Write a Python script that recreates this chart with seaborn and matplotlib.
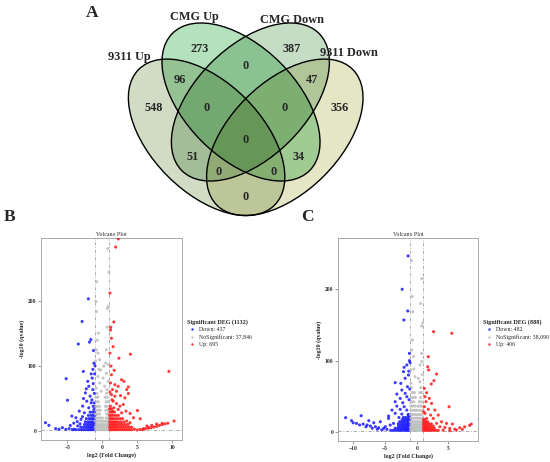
import numpy as np
import pandas as pd
import matplotlib
matplotlib.use("Agg")
import matplotlib.pyplot as plt
from matplotlib.patches import Ellipse
import seaborn as sns

# ---------------------------------------------------------------------------
# Data: Venn diagram (A = 9311 Up, B = CMG Up, C = CMG Down, D = 9311 Down)
# ---------------------------------------------------------------------------
SET_KEYS = ["A", "B", "C", "D"]
SET_NAMES = ["9311 Up", "CMG Up", "CMG Down", "9311 Down"]
REGION_KEYS = ["A", "B", "C", "D", "AB", "BC", "CD", "AC", "BD", "AD",
               "ABC", "BCD", "ACD", "ABD", "ABCD"]
REGION_COUNTS = [548, 273, 387, 356, 96, 0, 47, 51, 34, 0, 0, 0, 0, 0, 0]

# ---------------------------------------------------------------------------
# Data: volcano plots  (log2 fold change, -log10 qvalue)
# sparse points as pairs, dense clouds as rows (y, [x, ...])
# ---------------------------------------------------------------------------
B_TITLE = "Significant DEG (1132)"
B_LABELS = ["Down: 437", "NoSignificant: 37,846", "Up: 695"]
C_TITLE = "Significant DEG (888)"
C_LABELS = ["Down: 482", "NoSignificant: 38,090", "Up: 406"]

B_DOWN = [
    (-2.00, 203.7), (-2.90, 168.8), (-3.45, 134.0), (-1.84, 137.0), (-1.65, 141.0),
    (-1.26, 124.0), (-1.21, 104.6), (-1.05, 100.5), (-2.72, 91.8), (-5.19, 80.6),
    (-5.00, 47.4), (-1.60, 88.0), (-1.46, 81.6), (-2.09, 76.5), (-1.94, 68.9),
    (-1.36, 63.8), (-2.43, 58.7), (-1.75, 53.6), (-2.23, 45.9), (-1.60, 43.4),
    (-2.82, 38.3), (-1.94, 35.7), (-3.30, 30.6), (-2.57, 28.0), (-4.37, 23.0),
    (-3.79, 20.4), (-3.06, 17.9), (-8.16, 12.8), (-7.67, 8.7), (-5.73, 5.1),
    (-5.24, 2.6), (-4.76, 3.6), (-4.03, 2.6), (-3.54, 7.7), (-6.21, 2.6),
    (-6.70, 3.6), (-1.17, 43.4), (-1.21, 33.2), (-1.30, 73.0), (-1.15, 58.0),
    (-1.50, 48.0), (-2.70, 50.0), (-1.10, 88.0), (-1.35, 95.0), (-2.30, 65.0),
    (-4.10, 12.0), (-3.60, 14.5), (-3.20, 11.0), (-2.85, 22.0), (-4.60, 8.5),
]
B_DOWN_ROWS = [
    (2, [-1.1, -1.35, -1.6, -1.85, -2.1, -2.4, -2.7, -3.0, -3.4, -3.8, -4.3]),
    (6, [-1.05, -1.3, -1.55, -1.8, -2.05, -2.35, -2.7, -3.1]),
    (10, [-1.1, -1.35, -1.6, -1.9, -2.2, -2.55]),
    (14, [-1.05, -1.3, -1.55, -1.8, -2.1, -2.45]),
    (19, [-1.1, -1.35, -1.6, -1.9, -2.3]),
    (24, [-1.05, -1.3, -1.6, -2.0]),
    (29, [-1.1, -1.4, -1.75]),
    (38, [-1.05, -1.3]),
]
B_NS = [
    (0.78, 281.0), (0.86, 191.8), (-0.90, 199.5), (-0.85, 184.0), (0.73, 189.0),
    (-0.57, 150.7), (-0.73, 140.0), (-0.87, 125.0), (-0.63, 120.0), (0.58, 125.0),
    (-0.39, 110.0), (0.49, 104.6), (-0.24, 94.0), (0.58, 89.0), (-0.63, 84.0),
    (0.10, 81.6), (0.83, 76.5), (-0.39, 74.0), (0.34, 68.9), (-0.87, 66.0),
    (0.68, 63.8), (-0.15, 61.2), (0.90, 102.0), (-0.95, 108.0), (0.70, 160.0),
    (-0.80, 230.0), (0.95, 245.0), (-0.50, 95.0), (0.20, 100.0),
]
B_NS_ROWS = [
    (2, [-0.95, -0.7, -0.45, -0.2, 0.05, 0.3, 0.55, 0.8, 1.0]),
    (6, [-1.0, -0.75, -0.5, -0.25, 0.0, 0.25, 0.5, 0.75, 0.95]),
    (10, [-0.9, -0.62, -0.35, -0.1, 0.15, 0.42, 0.68, 0.92]),
    (15, [-1.0, -0.72, -0.45, -0.18, 0.1, 0.38, 0.62, 0.88]),
    (20, [-0.92, -0.6, -0.3, 0.0, 0.55, 0.8, 1.0]),
    (26, [-0.98, -0.7, -0.42, 0.62, 0.88]),
    (32, [-0.88, -0.55, -0.3, 0.5, 0.78, 0.98]),
    (38, [-0.95, -0.68, -0.4, 0.45, 0.72]),
    (45, [-0.85, -0.55, 0.55, 0.85]),
    (52, [-0.92, -0.62, 0.4, 0.7]),
    (58, [-0.75, 0.6]),
]
B_UP = [
    (2.30, 296.0), (1.92, 283.5), (1.10, 212.5), (1.65, 168.0), (1.21, 159.7),
    (1.17, 155.6), (1.31, 142.9), (1.55, 130.0), (4.03, 118.4), (2.38, 112.2),
    (1.70, 93.4), (9.56, 91.8), (1.31, 86.7), (2.77, 79.0), (3.11, 76.5),
    (3.74, 67.9), (1.17, 74.0), (1.80, 71.4), (2.28, 68.9), (1.46, 63.8),
    (2.04, 61.2), (3.50, 63.8), (1.31, 56.0), (1.80, 53.6), (2.62, 54.6),
    (3.74, 57.7), (3.25, 51.0), (5.05, 31.6), (1.55, 45.9), (2.04, 42.3),
    (1.17, 38.3), (1.65, 35.7), (2.52, 38.3), (3.01, 40.8), (2.28, 33.2),
    (1.46, 30.6), (2.77, 28.0), (3.40, 30.6), (3.98, 27.0), (4.47, 20.4),
    (5.44, 18.9), (3.50, 15.3), (3.98, 12.8), (1.25, 100.0), (1.10, 120.0),
    (1.40, 48.0), (1.10, 60.0),
    (4.60, 3.0), (5.00, 1.5), (5.40, 2.5), (5.80, 2.0), (6.20, 3.5), (6.60, 4.5),
    (7.00, 5.0), (7.40, 6.0), (7.80, 7.0), (8.20, 8.5), (8.60, 10.0), (9.00, 11.0),
    (9.40, 12.0), (10.30, 15.3), (6.40, 7.7), (7.10, 8.7), (7.80, 10.7), (8.60, 11.7),
    (5.90, 3.6), (6.65, 5.1),
]
B_UP_ROWS = [
    (2, [1.1, 1.35, 1.6, 1.85, 2.1, 2.4, 2.7, 3.0, 3.3, 3.6, 3.9, 4.2]),
    (6, [1.05, 1.3, 1.55, 1.8, 2.05, 2.3, 2.6, 2.9, 3.2, 3.5, 3.85, 4.2]),
    (10, [1.1, 1.35, 1.6, 1.85, 2.1, 2.4, 2.7, 3.0, 3.35, 3.7]),
    (14, [1.05, 1.3, 1.55, 1.8, 2.05, 2.35, 2.7, 3.1]),
    (19, [1.1, 1.35, 1.6, 1.9, 2.2, 2.55, 2.9]),
    (24, [1.05, 1.3, 1.6, 1.95, 2.3]),
    (29, [1.1, 1.4, 1.75]),
    (34, [1.05, 1.3]),
]

C_DOWN = [
    (-1.35, 246.8), (-2.29, 200.0), (-1.41, 169.6), (-2.03, 156.9), (-1.15, 99.8),
    (-1.04, 97.0), (-1.56, 93.7), (-1.98, 90.4), (-2.08, 84.3), (-3.39, 68.9),
    (-2.50, 67.9), (-1.82, 75.0), (-1.30, 79.6), (-1.46, 63.2), (-2.34, 58.5),
    (-3.13, 52.9), (-1.82, 53.9), (-2.60, 46.8), (-1.56, 49.2), (-3.39, 42.2),
    (-2.19, 40.7), (-3.13, 36.0), (-1.98, 35.1), (-3.90, 30.4), (-2.60, 31.4),
    (-1.56, 30.4), (-3.39, 25.8), (-2.34, 24.8), (-4.43, 22.0), (-1.30, 23.4),
    (-8.75, 22.5), (-11.20, 19.7), (-10.26, 15.5), (-9.48, 11.7), (-7.55, 15.5),
    (-8.44, 10.8), (-6.77, 12.6), (-5.73, 14.0), (-7.81, 9.4), (-7.30, 8.0),
    (-6.51, 7.0), (-5.99, 5.6), (-5.21, 4.7), (-4.69, 3.3), (-4.95, 7.0),
    (-4.17, 9.4), (-3.65, 11.7), (-4.43, 18.7), (-1.10, 60.0), (-1.20, 45.0),
    (-2.80, 20.0), (-5.50, 2.5), (-6.20, 3.5), (-7.00, 5.0), (-8.00, 7.0),
    (-9.00, 9.5), (-10.00, 12.5), (-1.15, 110.0), (-1.25, 85.0),
]
C_DOWN_ROWS = [
    (2, [-1.1, -1.35, -1.6, -1.85, -2.1, -2.4, -2.7, -3.0, -3.35, -3.7, -4.1]),
    (5, [-1.05, -1.3, -1.55, -1.8, -2.05, -2.35, -2.65, -3.0, -3.4]),
    (8, [-1.1, -1.35, -1.6, -1.9, -2.2, -2.5, -2.85]),
    (11, [-1.05, -1.3, -1.55, -1.85, -2.15, -2.5, -2.9]),
    (14, [-1.1, -1.35, -1.65, -2.0, -2.35, -2.7]),
    (17, [-1.05, -1.3, -1.6, -1.95, -2.3]),
    (20, [-1.1, -1.4, -1.75, -2.1]),
    (24, [-1.05, -1.35]),
]
C_NS = [
    (-0.63, 168.6), (0.94, 153.0), (0.78, 148.5), (-0.68, 128.8), (-0.78, 114.8),
    (0.78, 110.0), (-0.52, 105.4), (0.78, 98.4), (-0.94, 86.7), (0.52, 93.7),
    (-0.26, 77.3), (0.26, 74.9), (-0.90, 68.0), (0.90, 80.0), (-0.70, 190.0),
    (0.85, 215.0), (-0.85, 240.0), (0.60, 180.0), (-0.45, 88.0), (0.50, 70.0),
]
C_NS_ROWS = [
    (2, [-0.95, -0.7, -0.45, -0.2, 0.05, 0.3, 0.55, 0.8, 1.0]),
    (6, [-1.0, -0.75, -0.5, -0.25, 0.0, 0.25, 0.5, 0.75, 0.95]),
    (10, [-0.9, -0.62, -0.35, -0.1, 0.15, 0.42, 0.68, 0.92]),
    (14, [-1.0, -0.72, -0.45, -0.18, 0.1, 0.38, 0.62, 0.88]),
    (19, [-0.92, -0.6, -0.3, 0.0, 0.3, 0.6, 0.9]),
    (24, [-0.98, -0.7, -0.42, -0.12, 0.2, 0.5, 0.8]),
    (30, [-0.88, -0.55, -0.25, 0.1, 0.45, 0.78]),
    (36, [-0.95, -0.65, -0.3, 0.2, 0.55, 0.85]),
    (42, [-0.8, -0.45, 0.4, 0.75]),
    (48, [-0.9, -0.55, -0.2, 0.6]),
    (55, [-0.7, -0.35, 0.5, 0.8]),
    (62, [-0.8, 0.65]),
]
C_UP = [
    (2.66, 140.5), (5.52, 138.2), (1.82, 105.4), (1.72, 91.3), (3.13, 81.0),
    (1.88, 86.7), (2.71, 71.7), (2.29, 67.0), (1.20, 60.9), (5.10, 35.1),
    (1.56, 54.8), (1.30, 49.2), (1.98, 46.8), (1.46, 42.2), (2.34, 39.8),
    (1.20, 35.1), (1.82, 31.4), (2.86, 30.4), (1.30, 25.8), (2.19, 23.4),
    (3.39, 23.4), (1.56, 18.7), (2.60, 18.7), (3.91, 14.0), (4.69, 11.7),
    (5.63, 10.8), (3.65, 7.0), (4.43, 6.1), (5.21, 4.7), (5.99, 3.7),
    (6.77, 5.6), (7.55, 7.0), (8.33, 8.9), (8.60, 10.8), (4.17, 2.3),
    (5.21, 1.4), (6.25, 2.3), (7.19, 3.3), (3.13, 11.7), (1.10, 28.0),
]
C_UP_ROWS = [
    (2, [1.1, 1.35, 1.6, 1.85, 2.1, 2.4, 2.7, 3.0, 3.4]),
    (5, [1.05, 1.3, 1.55, 1.8, 2.1, 2.4, 2.75]),
    (8, [1.1, 1.35, 1.6, 1.9, 2.2, 2.6]),
    (11, [1.05, 1.3, 1.6, 1.95, 2.3]),
    (14, [1.1, 1.4, 1.75]),
    (17, [1.05, 1.3]),
]

# ---------------------------------------------------------------------------
# Layout (figure pixels, y pointing down)
# ---------------------------------------------------------------------------
W, H = 550, 462
ELLIPSES = {  # cx, cy, semi-major, semi-minor, angle
    "A": (206.6, 137.3, 96.0, 55.0, 45),
    "B": (241.0, 102.0, 97.0, 55.5, 45),
    "C": (250.4, 102.0, 97.0, 55.5, -45),
    "D": (284.8, 137.3, 96.0, 55.0, -45),
}
FILLS = {"A": "#d3dcc6", "B": "#b4e2bd", "C": "#c6dcc5", "D": "#e4e6c6"}
SET_LABEL_POS = {"A": (129, 57), "B": (194, 17), "C": (291.5, 20), "D": (349, 53)}
REGION_POS = {
    "A": (153.3, 108.3), "B": (199.3, 49.3), "C": (291.7, 49.3), "D": (339.3, 108.3),
    "AB": (180, 80), "BC": (246, 65.7), "CD": (311.7, 80), "AC": (192.7, 156.7),
    "BD": (299, 156.7), "AD": (246, 196.7), "ABC": (206.7, 108.3),
    "BCD": (285, 108.3), "ACD": (218.3, 171.7), "ABD": (273.3, 171.7),
    "ABCD": (245.7, 140),
}

sns.set_style("white")
plt.rcParams["font.family"] = ["Liberation Serif", "DejaVu Serif"]

fig = plt.figure(figsize=(W / 100, H / 100), dpi=100)

# ---- Venn panel -----------------------------------------------------------
ax_v = fig.add_axes([0, 0, 1, 1])
ax_v.set_xlim(0, W)
ax_v.set_ylim(H, 0)
ax_v.axis("off")
ax_v.patch.set_alpha(0)

x0, x1, y0, y1 = 100, 392, 0, 224
xs = np.arange(x0, x1, 0.5) + 0.25
ys = np.arange(y0, y1, 0.5) + 0.25
X, Y = np.meshgrid(xs, ys)
rgba = np.ones((len(ys), len(xs), 4))
any_in = np.zeros(X.shape, dtype=bool)
for key in SET_KEYS:
    cx, cy, a, b, ang = ELLIPSES[key]
    t = np.deg2rad(ang)
    u = (X - cx) * np.cos(t) + (Y - cy) * np.sin(t)
    v = -(X - cx) * np.sin(t) + (Y - cy) * np.cos(t)
    inside = (u / a) ** 2 + (v / b) ** 2 <= 1
    col = np.array(matplotlib.colors.to_rgb(FILLS[key]))
    rgba[inside, :3] *= col
    any_in |= inside
rgba[..., 3] = any_in.astype(float)
ax_v.imshow(rgba, extent=(x0, x1, y1, y0), interpolation="bilinear", zorder=1)

for key in SET_KEYS:
    cx, cy, a, b, ang = ELLIPSES[key]
    ax_v.add_patch(Ellipse((cx, cy), 2 * a, 2 * b, angle=ang, fill=False,
                           ec="black", lw=1.0, zorder=2))

for key, name in zip(SET_KEYS, SET_NAMES):
    x, y = SET_LABEL_POS[key]
    ax_v.text(x, y, name, ha="center", va="center", fontsize=8.8,
              fontweight="bold", zorder=3)
for key, count in zip(REGION_KEYS, REGION_COUNTS):
    x, y = REGION_POS[key]
    ax_v.text(x, y, str(count), ha="center", va="center", fontsize=8.8,
              fontweight="bold", zorder=3)

for lab, (x, y) in zip(["A", "B", "C"], [(92, 13), (10, 217), (307, 217)]):
    ax_v.text(x, y, lab, ha="center", va="center", fontsize=12.5,
              fontweight="bold", zorder=3)


# ---- Volcano panels -------------------------------------------------------
def volcano_frame(labels, down, down_rows, ns, ns_rows, up, up_rows):
    rows = []
    for lab, pts, dense in zip(labels, [down, ns, up], [down_rows, ns_rows, up_rows]):
        rows += [(x, y, lab) for x, y in pts]
        rows += [(x, y, lab) for y, xlist in dense for x in xlist]
    return pd.DataFrame(rows, columns=["log2FC", "q", "group"])


def draw_volcano(rect, df, labels, title, xlim, ylim, xticks):
    ax = fig.add_axes(rect)
    sns.scatterplot(data=df, x="log2FC", y="q", hue="group", hue_order=labels,
                    palette=["#1a1aff", "#bdbdbd", "#ff1a1a"], s=5,
                    linewidth=0, alpha=0.85, ax=ax, zorder=3)
    dash = (0, (4, 2, 1, 2))
    for xv in (-1, 1):
        ax.axvline(xv, color="#a0a0a0", lw=0.6, ls=dash, zorder=2)
    ax.axhline(1.3, color="#a0a0a0", lw=0.6, ls=dash, zorder=2)
    ax.set_xlim(*xlim)
    ax.set_ylim(*ylim)
    ax.set_xticks(xticks)
    ax.set_yticks([0, 100, 200])
    ax.set_title("Volcano Plot", fontsize=4.2, pad=1.8)
    ax.set_xlabel("log2 (Fold Change)", fontsize=4.3, fontweight="bold", labelpad=1.5)
    ax.set_ylabel("-log10 (qvalue)", fontsize=4.3, fontweight="bold", labelpad=2)
    ax.tick_params(axis="both", labelsize=4, length=2, width=0.5, pad=1.5,
                   color="#707070", bottom=True, left=True)
    for lbl in ax.get_xticklabels() + ax.get_yticklabels():
        lbl.set_fontweight("bold")
    for sp in ax.spines.values():
        sp.set_color("#a8a8a8")
        sp.set_linewidth(0.7)
    sns.move_legend(ax, "upper left", bbox_to_anchor=(1.035, 0.6), frameon=False,
                    title=title, fontsize=4.2, title_fontsize=4.4,
                    borderaxespad=0, borderpad=0, handletextpad=0.2,
                    labelspacing=0.35, alignment="left", markerscale=0.8)
    ax.get_legend().get_title().set_fontweight("bold")
    return ax


df_b = volcano_frame(B_LABELS, B_DOWN, B_DOWN_ROWS, B_NS, B_NS_ROWS, B_UP, B_UP_ROWS)
df_c = volcano_frame(C_LABELS, C_DOWN, C_DOWN_ROWS, C_NS, C_NS_ROWS, C_UP, C_UP_ROWS)

draw_volcano([41.3 / W, 22 / H, 140.4 / W, 201.7 / H], df_b, B_LABELS, B_TITLE,
             (-8.76, 11.4), (-13.9, 297), [-5, 0, 5, 10])
draw_volcano([338.3 / W, 21 / H, 140 / W, 202.7 / H], df_c, C_LABELS, C_TITLE,
             (-12.35, 9.7), (-13, 271.6), [-10, -5, 0, 5])

fig.savefig("out.png", dpi=100)
